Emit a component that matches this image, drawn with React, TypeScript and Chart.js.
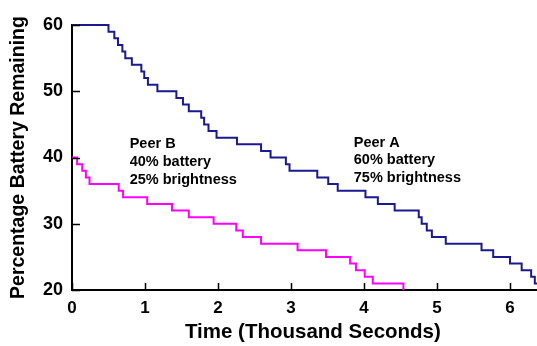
import React, { useEffect, useRef } from "react";
import { Chart, registerables } from "chart.js";

Chart.register(...registerables);

// Battery drain over time; each point is the moment the level drops to the new value.
const peerATime = [
  0, 0.5, 0.58, 0.63, 0.69, 0.73, 0.82, 0.95, 0.99, 1.04, 1.17, 1.43, 1.52, 1.6,
  1.77, 1.81, 1.87, 1.98, 2.26, 2.59, 2.72, 2.93, 2.98, 3.36, 3.51, 3.64, 4.02,
  4.19, 4.42, 4.75, 4.79, 4.86, 4.93, 5.12, 5.61, 5.77, 6.0, 6.16, 6.29, 6.34, 6.37,
];
const peerAPercent = [
  60, 59, 58, 57, 56, 55, 54, 53, 52, 51, 50, 49, 48, 47, 46, 45, 44, 43, 42, 41,
  40, 39, 38, 37, 36, 35, 34, 33, 32, 31, 30, 29, 28, 27, 26, 25, 24, 23, 22, 21, 21,
];
const peerBTime = [
  0, 0.07, 0.14, 0.19, 0.24, 0.64, 0.7, 1.03, 1.37, 1.6, 1.94, 2.25, 2.34, 2.59,
  3.09, 3.48, 3.81, 3.89, 4.01, 4.12, 4.54,
];
const peerBPercent = [
  40, 39, 38, 37, 36, 35, 34, 33, 32, 31, 30, 29, 28, 27, 26, 25, 24, 23, 22, 21, 20,
];

const xTicks = [0, 1, 2, 3, 4, 5, 6];
const yTicks = [20, 30, 40, 50, 60];
const xMin = 0;
const xMax = 6.37;
const yMin = 20;
const yMax = 60;

const xTitle = "Time (Thousand Seconds)";
const peerBLabel = ["Peer B", "40% battery", "25% brightness"];
const peerALabel = ["Peer A", "60% battery", "75% brightness"];

const FONT = '"Liberation Sans", Arial, Helvetica, sans-serif';

const toPoints = (xs: number[], ys: number[]) => xs.map((x, i) => ({ x, y: ys[i] }));

// Inward tick marks, the time-axis caption and the in-plot notes.
const decorPlugin = {
  id: "decor",
  afterDraw(chart: any) {
    const { ctx, chartArea, scales } = chart;
    const xs = scales.x;
    const ys = scales.y;
    ctx.save();
    ctx.strokeStyle = "#000";
    ctx.lineWidth = 1.5;
    ctx.beginPath();
    xTicks.forEach((v) => {
      const px = Math.round(xs.getPixelForValue(v)) + 0.5;
      ctx.moveTo(px, chartArea.bottom);
      ctx.lineTo(px, chartArea.bottom - 7);
    });
    yTicks.forEach((v) => {
      const py = Math.round(ys.getPixelForValue(v)) + 0.5;
      ctx.moveTo(chartArea.left, py);
      ctx.lineTo(chartArea.left + 8, py);
    });
    ctx.stroke();

    ctx.fillStyle = "#000";
    ctx.textAlign = "center";
    ctx.textBaseline = "middle";
    ctx.font = `bold 20.5px ${FONT}`;
    ctx.fillText(xTitle, xs.getPixelForValue(3.3), chartArea.bottom + 42);

    ctx.font = `bold 14.5px ${FONT}`;
    ctx.textAlign = "left";
    ctx.textBaseline = "alphabetic";
    const drawNote = (lines: string[], tx: number, ty: number, gap: number) => {
      const px = xs.getPixelForValue(tx);
      const py = ys.getPixelForValue(ty);
      lines.forEach((s, i) => ctx.fillText(s, px, py + i * gap));
    };
    drawNote(peerBLabel, 0.79, 41.4, 18);
    drawNote(peerALabel, 3.86, 41.64, 17.5);
    ctx.restore();
  },
};

export default function App() {
  const canvasRef = useRef<HTMLCanvasElement | null>(null);

  useEffect(() => {
    if (!canvasRef.current) return;
    const chart = new Chart(canvasRef.current, {
      type: "line",
      data: {
        datasets: [
          {
            label: "Peer A",
            data: toPoints(peerATime, peerAPercent),
            borderColor: "#1a1a8e",
            borderWidth: 2,
            pointRadius: 0,
            stepped: "before",
            fill: false,
            clip: false,
          } as any,
          {
            label: "Peer B",
            data: toPoints(peerBTime, peerBPercent),
            borderColor: "#ff00ff",
            borderWidth: 2,
            pointRadius: 0,
            stepped: "before",
            fill: false,
            clip: false,
          } as any,
        ],
      },
      options: {
        animation: false,
        responsive: false,
        maintainAspectRatio: false,
        layout: { padding: { top: 25, right: 0, left: 0, bottom: 0 } },
        plugins: {
          legend: { display: false },
          tooltip: { enabled: false },
        },
        scales: {
          x: {
            type: "linear",
            min: xMin,
            max: xMax,
            afterBuildTicks: (s: any) => {
              s.ticks = xTicks.map((value) => ({ value }));
            },
            afterFit: (s: any) => {
              s.height = 56;
            },
            grid: { display: false, drawTicks: false },
            border: { display: true, color: "#000", width: 2 },
            ticks: {
              color: "#000",
              padding: 8,
              maxRotation: 0,
              font: { family: FONT, size: 17, weight: "bold" },
            },
          },
          y: {
            type: "linear",
            min: yMin,
            max: yMax,
            afterBuildTicks: (s: any) => {
              s.ticks = yTicks.map((value) => ({ value }));
            },
            afterFit: (s: any) => {
              s.width = 72;
            },
            grid: { display: false, drawTicks: false },
            border: { display: true, color: "#000", width: 2 },
            ticks: {
              color: "#000",
              padding: 9,
              font: { family: FONT, size: 18, weight: "bold" },
            },
            title: {
              display: true,
              text: "Percentage Battery Remaining",
              color: "#000",
              padding: { top: 7, bottom: 0 },
              font: { family: FONT, size: 19.5, weight: "bold" },
            },
          },
        },
      } as any,
      plugins: [decorPlugin],
    });
    return () => chart.destroy();
  }, []);

  return (
    <div style={{ position: "fixed", left: 0, top: 0, width: 537, height: 346, background: "#fff" }}>
      <canvas ref={canvasRef} width={537} height={346} />
    </div>
  );
}
